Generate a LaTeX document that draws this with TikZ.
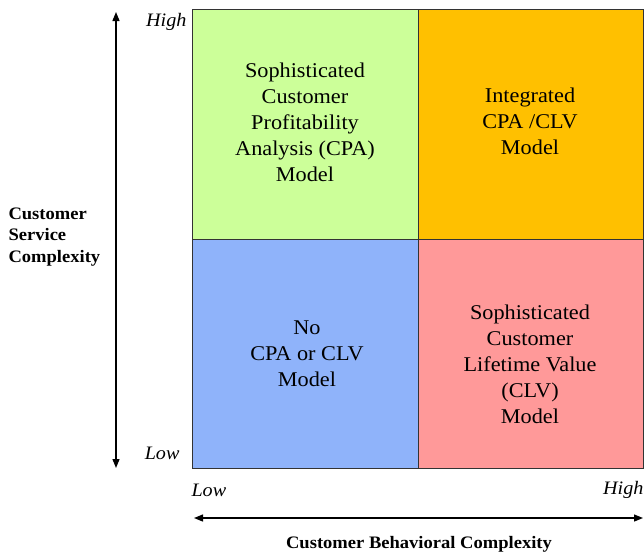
\documentclass[tikz,border=0pt]{standalone}
\usepackage{fontspec}
\setmainfont[FakeStretch=1.06]{Liberation Serif}
\usetikzlibrary{arrows.meta}
\definecolor{cellgreen}{RGB}{204,255,153}
\definecolor{cellorange}{RGB}{255,192,0}
\definecolor{cellblue}{RGB}{143,179,250}
\definecolor{cellpink}{RGB}{255,153,153}
\tikzset{
  cell/.style={draw=black!80, line width=0.9pt, inner sep=0pt, outer sep=0pt},
  celltext/.style={align=center, font=\fontsize{21}{26}\selectfont},
  axislabel/.style={font=\fontsize{17.5}{21.5}\selectfont\bfseries, align=left},
  ticklabel/.style={font=\fontsize{19}{22}\selectfont\itshape},
  axisarrow/.style={line width=1.3pt, -{Triangle[length=9pt,width=7pt]}}
}
\begin{document}
\begin{tikzpicture}[x=1pt,y=-1pt]
\useasboundingbox (0,0) rectangle (644,555);
% quadrant cells
\node[cell, fill=cellgreen, anchor=north west, minimum width=226pt, minimum height=230pt] (ul) at (192,9) {};
\node[cell, fill=cellorange, anchor=north west, minimum width=225pt, minimum height=230pt] (ur) at (418,9) {};
\node[cell, fill=cellblue, anchor=north west, minimum width=226pt, minimum height=229pt] (ll) at (192,239) {};
\node[cell, fill=cellpink, anchor=north west, minimum width=225pt, minimum height=229pt] (lr) at (418,239) {};
% cell texts
\node[celltext] (tul) at (305,122) {Sophisticated\\Customer\\Profitability\\Analysis (CPA)\\Model};
\node[celltext] (tur) at (530,121) {Integrated\\CPA /CLV\\Model};
\node[celltext] (tll) at (307,354) {No\\CPA or CLV\\Model};
\node[celltext] (tlr) at (530,364) {Sophisticated\\Customer\\Lifetime Value\\(CLV)\\Model};
% vertical axis
\coordinate (vtop) at (116,12);
\coordinate (vbot) at (116,468);
\coordinate (vmid) at (116,240);
\draw[axisarrow] (vmid) -- (vtop);
\draw[axisarrow] (vmid) -- (vbot);
\node[ticklabel, anchor=east] (vhigh) at (190,22) {High};
\node[ticklabel, anchor=east] (vlow) at (183,453) {Low};
\node[axislabel, anchor=west] (vlab) at (5,237) {Customer\\Service\\Complexity};
% horizontal axis
\coordinate (hleft) at (194,518);
\coordinate (hright) at (643,518);
\coordinate (hmid) at (418,518);
\draw[axisarrow] (hmid) -- (hleft);
\draw[axisarrow] (hmid) -- (hright);
\node[ticklabel, anchor=west] (hlow) at (188,490) {Low};
\node[ticklabel, anchor=east] (hhigh) at (647,490) {High};
\node[axislabel] (hlab) at (419,544) {Customer Behavioral Complexity};
\end{tikzpicture}
\end{document}
